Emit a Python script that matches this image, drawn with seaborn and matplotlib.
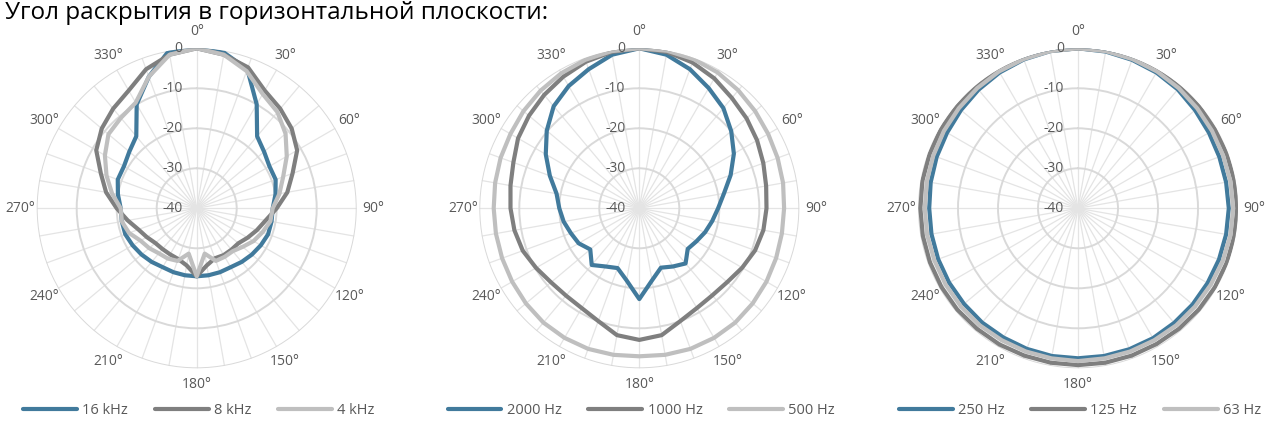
import numpy as np
import pandas as pd
import matplotlib
matplotlib.use("Agg")
import matplotlib.pyplot as plt
import matplotlib.transforms as mtransforms
import seaborn as sns

# angles of the measurement points (degrees), 10° step
angles = list(range(0, 360, 10))
angle_labels = [f"{a}°" for a in range(0, 360, 30)]
db_ticks = [0, -10, -20, -30, -40]

title = "Угол раскрытия в горизонтальной плоскости:"

# chart 1 - high frequencies
hf_names = ["16 kHz", "8 kHz", "4 kHz"]
hz16k = [0, -0.5, -3, -10, -16.5, -18, -19, -19, -20, -21, -21, -21, -21.5, -22, -22.5, -23, -23, -23,
         -23, -23, -23, -23, -22.5, -22, -21.5, -21, -21, -21, -20, -19, -19, -18, -16.5, -10, -5, 0]
hz8k = [0, -1, -2.5, -6, -7.5, -9, -11, -14.5, -17, -20, -22.5, -24, -25.3, -26.4, -26.5, -26.5, -26.7, -25.5,
        -23, -25.5, -26.5, -26.7, -26.7, -26.5, -25.6, -24.5, -22.5, -20, -17, -14.5, -11, -9, -7.5, -6, -3, -1]
hz4k = [0, -1, -3.5, -7, -8.6, -11, -14, -17, -19, -21, -21.3, -22.5, -23.6, -25, -26, -26, -26, -28.5,
        -23, -28.5, -26, -25.5, -25.3, -24.5, -23.8, -22, -21, -21, -18.5, -16, -13.5, -11.2, -10.5, -9.5, -5, -1]

# chart 2 - mid frequencies
mf_names = ["2000 Hz", "1000 Hz", "500 Hz"]
hz2000 = [0, -1, -3, -5.3, -7.3, -10, -12.7, -15.7, -18.5, -20.3, -21.5, -22.5, -23.5, -24.2, -22, -23.2, -24.2, -21.7,
          -17.3, -21.7, -24.1, -23.2, -21.5, -24, -22.5, -21.8, -20.8, -20, -19, -16.2, -13, -9.8, -6.7, -4.7, -3, -1]
hz1000 = [0, -0.3, -1.2, -2.5, -4, -5, -6, -7, -7.8, -8.2, -8.5, -9.2, -10.3, -11.3, -11.6, -11.2, -10, -7.8,
          -7.1, -7.8, -10, -11.2, -11.5, -11.2, -10.2, -9, -8.3, -7.8, -7.3, -6.5, -5, -4, -3, -2, -1, -0.3]
hz500 = [0, 0, -0.3, -0.8, -1.5, -2.2, -2.8, -3.2, -3.5, -3.8, -3.8, -3.6, -3.3, -3, -2.7, -2.6, -2.6, -2.8,
         -3, -2.8, -2.6, -2.6, -2.7, -3, -3.3, -3.5, -3.6, -3.6, -3.4, -3.1, -2.8, -2.2, -1.6, -1, -0.5, -0.1]

# chart 3 - low frequencies
lf_names = ["250 Hz", "125 Hz", "63 Hz"]
hz250 = [0, -0.2, -0.5, -0.8, -1.2, -1.8, -2.2, -2.4, -2.4, -2.3, -2.4, -2.5, -2.6, -2.6, -2.6, -2.5, -2.5, -2.5,
         -2.5, -2.5, -2.6, -2.7, -2.7, -2.8, -2.8, -2.8, -2.8, -2.8, -2.6, -2.4, -2.2, -1.8, -1.3, -0.8, -0.4, -0.1]
hz125 = [0, 0, -0.1, -0.2, -0.3, -0.4, -0.5, -0.4, -0.3, -0.2, -0.3, -0.4, -0.5, -0.6, -0.7, -0.8, -0.8, -0.8,
         -0.8, -0.8, -0.8, -0.7, -0.7, -0.6, -0.6, -0.6, -0.6, -0.6, -0.5, -0.5, -0.4, -0.4, -0.3, -0.2, -0.1, 0]
hz63 = [0, -0.1, -0.3, -0.5, -0.8, -1.1, -1.3, -1.4, -1.3, -1.2, -1.3, -1.5, -1.7, -1.8, -1.8, -1.9, -1.9, -1.9,
        -1.8, -1.9, -1.9, -1.9, -1.8, -1.8, -1.8, -1.8, -1.7, -1.7, -1.6, -1.5, -1.3, -1.1, -0.8, -0.5, -0.3, -0.1]

colors = ["#417a9c", "#7f7f7f", "#bfbfbf"]
text_color = "#595959"

W, H = 1270, 424
R = 160  # radius of the 0 dB ring in pixels
charts = [
    (196.7, 208.3, hf_names, [hz16k, hz8k, hz4k]),
    (639.3, 208.3, mf_names, [hz2000, hz1000, hz500]),
    (1078.0, 208.3, lf_names, [hz250, hz125, hz63]),
]


def make_frame(names, series):
    rows = []
    for name, vals in zip(names, series):
        # close the polygon by repeating the first point at 360°
        for a, v in zip(angles + [360], vals + [vals[0]]):
            rows.append({"theta": np.deg2rad(a), "db": v, "series": name})
    return pd.DataFrame(rows)


sns.set_theme(style="white")
plt.rcParams["font.family"] = ["Open Sans", "DejaVu Sans"]

fig = plt.figure(figsize=(W / 100, H / 100), dpi=100)
fig.text(5 / W, 1 - 1 / H, title, ha="left", va="top", fontsize=17.5, color="black")

for cx, cy, names, series in charts:
    ax = fig.add_axes([(cx - R) / W, (H - cy - R) / H, 2 * R / W, 2 * R / H], projection="polar")
    ax.set_theta_zero_location("N")
    ax.set_theta_direction(-1)

    df = make_frame(names, series)
    sns.lineplot(data=df, x="theta", y="db", hue="series", palette=colors, sort=False,
                 estimator=None, linewidth=3, ax=ax, legend=False)

    ax.set_ylim(-40, 0)
    ax.set_yticks(db_ticks)
    ax.set_yticklabels([])
    ax.set_xticks(np.deg2rad(angles))
    ax.set_xticklabels([])
    ax.xaxis.grid(True, color="#e4e4e4", linewidth=0.9)
    ax.yaxis.grid(True, color="#d9d9d9", linewidth=1.4)
    ax.spines["polar"].set_visible(False)
    ax.set_xlabel("")
    ax.set_ylabel("")
    ax.set_facecolor("none")

    # radial labels to the left of the 0° spoke
    shift = mtransforms.offset_copy(ax.transData, fig=fig, x=-14, y=0, units="dots")
    for t in db_ticks:
        ax.text(0, t, str(t), transform=shift, ha="right", va="center",
                fontsize=10, color=text_color, clip_on=False)

    # angle labels outside the outer ring
    for a, lab in zip(range(0, 360, 30), angle_labels):
        ax.text(np.deg2rad(a), 4.1, lab, ha="center", va="center",
                fontsize=10, color=text_color, clip_on=False)

    lines = ax.get_lines()[:3]
    fig.legend(lines, names, loc="center", bbox_to_anchor=(cx / W + 2 / W, 13.3 / H),
               ncol=3, frameon=False, fontsize=10.5, labelcolor=text_color,
               handlelength=3.7, handletextpad=0.35, columnspacing=1.85)

fig.savefig("out.png", dpi=100)
